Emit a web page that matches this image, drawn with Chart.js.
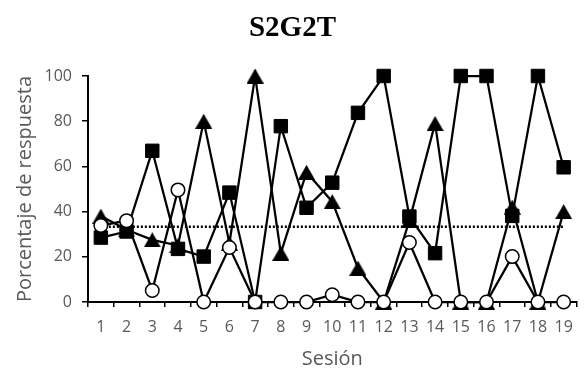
<!DOCTYPE html>
<html>
<head>
<meta charset="utf-8">
<script src="https://cdn.jsdelivr.net/npm/chart.js@4/dist/chart.umd.min.js"></script>
<style>
  html, body { margin: 0; padding: 0; background: #fff; }
  #wrap { width: 587px; height: 371px; position: relative; }
</style>
</head>
<body>
<div id="wrap"><canvas id="c"></canvas></div>
<script>
// Sessions on the x axis
const sesiones = ['1','2','3','4','5','6','7','8','9','10','11','12','13','14','15','16','17','18','19'];

// Response percentages per session, one array per response type
const respuestaCuadrado = [28.5, 31.2, 66.9, 23.5, 20.1, 48.4, 0, 77.8, 41.7, 52.8, 83.7, 100, 37.8, 21.6, 100, 100, 38.1, 100, 59.6];
const respuestaTriangulo = [38, 32, 27.5, 25, 80, 26, 100, 21.6, 57.4, 44.4, 15, 0, 36, 79, 0, 0, 42, 0, 40];
const respuestaCirculo = [33.8, 36, 5.1, 49.6, 0, 24.1, 0, 0, 0, 3.2, 0, 0, 26.3, 0, 0, 0, 20.1, 0, 0];

// Chance level (one in three)
const nivelAzar = [33.3, 33.3, 33.3, 33.3, 33.3, 33.3, 33.3, 33.3, 33.3, 33.3, 33.3, 33.3, 33.3, 33.3, 33.3, 33.3, 33.3, 33.3, 33.3];

// Y axis ticks
const ticksY = [0, 20, 40, 60, 80, 100];

// Triangle marker centred on its bounding box
function triangleMarker(w, h) {
  const cv = document.createElement('canvas');
  cv.width = w; cv.height = h;
  const g = cv.getContext('2d');
  g.fillStyle = '#000';
  g.beginPath();
  g.moveTo(w / 2, 0);
  g.lineTo(w, h);
  g.lineTo(0, h);
  g.closePath();
  g.fill();
  return cv;
}
const tri = triangleMarker(17, 15);

const gris = '#595959';
const fuenteTicks = { family: '"Open Sans", sans-serif', size: 16 };
const fuenteTitulo = { family: '"Open Sans", sans-serif', size: 20 };

new Chart(document.getElementById('c'), {
  type: 'line',
  data: {
    labels: sesiones,
    datasets: [
      {
        label: 'Círculo',
        data: respuestaCirculo,
        borderColor: '#000', borderWidth: 2.25,
        pointStyle: 'circle', pointRadius: 6.75,
        pointBackgroundColor: '#fff', pointBorderColor: '#000', pointBorderWidth: 1.5,
        order: 1, clip: false
      },
      {
        label: 'Cuadrado',
        data: respuestaCuadrado,
        borderColor: '#000', borderWidth: 2.25,
        pointStyle: 'rect', pointRadius: 9.5,
        pointBackgroundColor: '#000', pointBorderColor: '#000', pointBorderWidth: 1,
        order: 2, clip: false
      },
      {
        label: 'Triángulo',
        data: respuestaTriangulo,
        borderColor: '#000', borderWidth: 2.25,
        pointStyle: tri, pointRadius: 8,
        order: 3, clip: false
      },
      {
        label: 'Azar',
        data: nivelAzar,
        borderColor: '#000', borderWidth: 2.5, borderDash: [2, 2],
        pointRadius: 0,
        order: 4, clip: false
      }
    ]
  },
  options: {
    responsive: true,
    maintainAspectRatio: false,
    animation: false,
    events: [],
    layout: { padding: { left: 0, right: 2, top: 0, bottom: 0 } },
    plugins: {
      legend: { display: false },
      tooltip: { enabled: false },
      title: {
        display: true,
        text: 'S2G2T',
        color: '#000',
        font: { family: '"Liberation Serif", "Times New Roman", serif', size: 29, weight: 'bold', lineHeight: 1.2 },
        padding: { top: 11, bottom: 30.2 }
      }
    },
    scales: {
      x: {
        type: 'category',
        offset: true,
        grid: { offset: true, drawOnChartArea: false, drawTicks: true, tickLength: 5, color: '#000', lineWidth: 1.5 },
        border: { color: '#000', width: 2 },
        ticks: { color: gris, font: fuenteTicks, padding: 11, maxRotation: 0, autoSkip: false },
        title: { display: true, text: 'Sesión', color: gris, font: fuenteTitulo, padding: { top: 0, bottom: 0 } },
        afterFit(scale) { scale.height = 69; }
      },
      y: {
        min: 0, max: 100,
        afterBuildTicks(scale) { scale.ticks = ticksY.map(v => ({ value: v })); },
        grid: { drawOnChartArea: false, drawTicks: true, tickLength: 6, color: '#000', lineWidth: 1.5 },
        border: { color: '#000', width: 2 },
        ticks: { color: gris, font: fuenteTicks, padding: 10 },
        title: { display: true, text: 'Porcentaje de respuesta', color: gris, font: fuenteTitulo, padding: { top: 13, bottom: 0 } },
        afterFit(scale) { scale.width = 88; }
      }
    }
  }
});
</script>
</body>
</html>
